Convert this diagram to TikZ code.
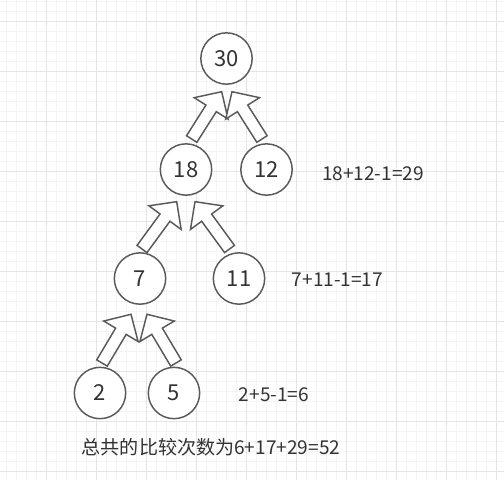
\documentclass[tikz,border=0pt]{standalone}
\usepackage{fontspec}
\setmainfont{Noto Sans CJK SC}
\usepackage{xcolor}
\usetikzlibrary{calc}

\definecolor{edge}{HTML}{5A5A5A}
\definecolor{ink}{HTML}{333333}

% hollow block arrow from tail #1 to tip #2
\newcommand{\blockarrow}[2]{%
  \coordinate (m) at ($(#2)!14.8pt!(#1)$);
  \draw[arrowbody] ($(#1)!4.6pt!90:(#2)$) -- ($(m)!4.6pt!90:(#2)$)
    -- ($(m)!15pt!90:(#2)$) -- (#2)
    -- ($(m)!15pt!-90:(#2)$) -- ($(m)!4.6pt!-90:(#2)$)
    -- ($(#1)!4.6pt!-90:(#2)$) -- cycle;}

\begin{document}
\begin{tikzpicture}[x=0.75pt, y=-0.75pt,
    num/.style={circle, draw=edge, line width=1.1pt, fill=white, minimum size=38.5pt, inner sep=0pt, text=ink, font=\fontsize{16.5}{20}\selectfont},
    note/.style={text=ink, inner sep=0pt, font=\fontsize{14.3}{17}\selectfont},
    arrowbody/.style={draw=edge, line width=1.1pt, fill=white, line join=miter},
    minor/.style={draw=gray!9, line width=0.75pt},
    major/.style={draw=gray!20, line width=0.75pt}]
        \useasboundingbox (0,0) rectangle (504,480);
        \fill[white] (0,0) rectangle (504,480);

        % grid
        \foreach \x in {6.5,16.5,...,496.5} \draw[minor] (\x,0) -- (\x,480);
        \foreach \y in {1.7,11.7,...,471.7} \draw[minor] (0,\y) -- (504,\y);
        \foreach \x in {46.5,96.5,...,496.5} \draw[major] (\x,0) -- (\x,480);
        \foreach \y in {21.7,71.7,...,471.7} \draw[major] (0,\y) -- (504,\y);

        \node[num] (n30) at (226.5, 58.5) {30};
        \node[num] (n18) at (186, 169.5) {18};
        \node[num] (n12) at (266.5, 169.5) {12};
        \node[num] (n7) at (140, 278.5) {7};
        \node[num] (n11) at (239, 278.5) {11};
        \node[num] (n2) at (100, 393) {2};
        \node[num] (n5) at (174, 393) {5};

        \node[note] (s3) at (373, 174) {18+12-1=29};
        \node[note] (s2) at (337.5, 279.5) {7+11-1=17};
        \node[note] (s1) at (274, 395) {2+5-1=6};
        \node[note] (sum) at (211, 447) {总共的比较次数为6+17+29=52};

        \coordinate (p1) at (191.7, 139);
        \coordinate (q1) at (221.7, 91.7);
        \coordinate (p2) at (262, 139);
        \coordinate (q2) at (232, 91.7);
        \coordinate (p3) at (142, 249);
        \coordinate (q3) at (176.7, 201.7);
        \coordinate (p4) at (229.5, 249);
        \coordinate (q4) at (195, 201.7);
        \coordinate (p5) at (102, 363);
        \coordinate (q5) at (131, 314.3);
        \coordinate (p6) at (176, 363);
        \coordinate (q6) at (147, 314.3);

        \blockarrow{p1}{q1}
        \blockarrow{p2}{q2}
        \blockarrow{p3}{q3}
        \blockarrow{p4}{q4}
        \blockarrow{p5}{q5}
        \blockarrow{p6}{q6}
    \end{tikzpicture}
\end{document}
